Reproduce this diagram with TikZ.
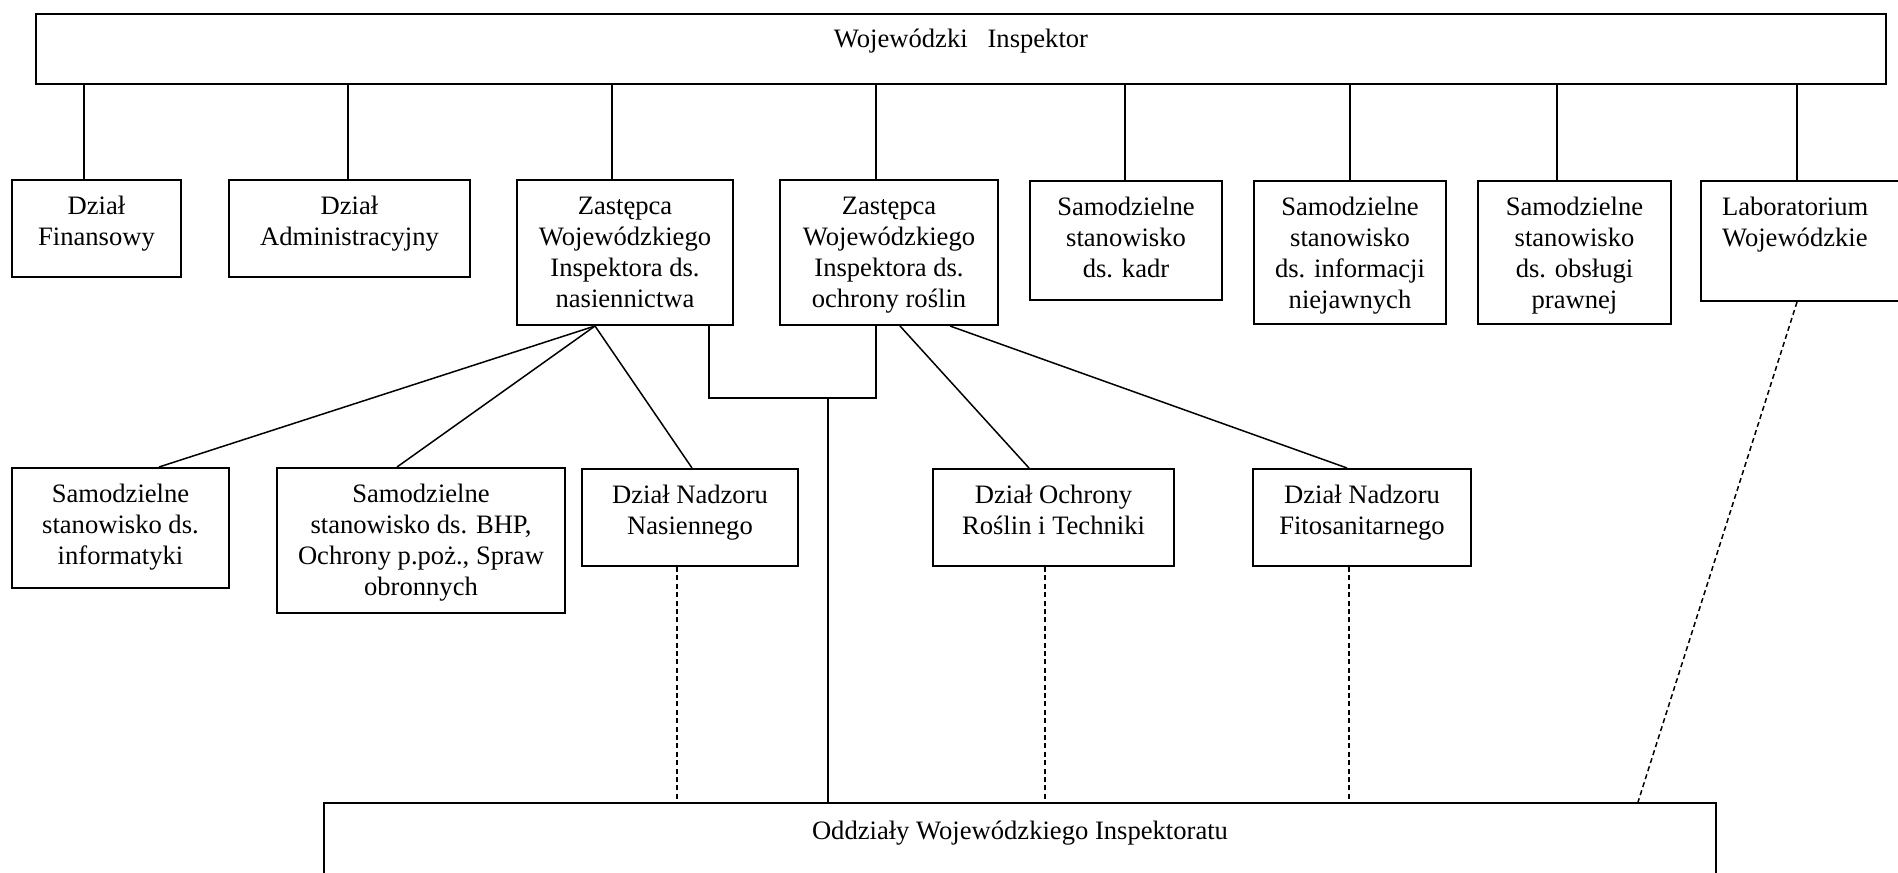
\documentclass[tikz,border=0pt]{standalone}
\usepackage{fontspec}
\setmainfont{Liberation Serif}
\usetikzlibrary{calc}
\newlength\pxu
\setlength\pxu{0.5pt}
\newcommand\boxtext[3]{\parbox[c][#2\pxu][t]{#1\pxu}{\centering\rule{0pt}{34\pxu}#3\par}}
\newcommand\boxtextl[3]{\parbox[c][#2\pxu][t]{#1\pxu}{\raggedright\leftskip=21\pxu\rule{0pt}{34\pxu}#3\par}}
\begin{document}
\begin{tikzpicture}[x=0.5pt,y=-0.5pt,
  box/.style={draw, line width=1pt, inner sep=0pt, anchor=north west, font=\fontsize{13.3}{15.5}\selectfont},
  conn/.style={line width=0.75pt},
  dashline/.style={line width=0.75pt, dash pattern=on 2.5pt off 1.7pt}]
\useasboundingbox (0,0) rectangle (1898,872);
% top
\node[box] (wi) at (35,13) {\parbox[c][70\pxu][t]{1850\pxu}{\centering\rule{0pt}{34\pxu}Wojewódzki\ \ \ Inspektor\par}};
% row 1
\node[box] (fin) at (11,179) {\boxtext{169}{97}{Dział\\Finansowy}};
\node[box] (adm) at (228,179) {\boxtext{241}{97}{Dział\\Administracyjny}};
\node[box] (zn) at (516,179) {\boxtext{216}{145}{Zastępca\\Wojewódzkiego\\Inspektora ds.\\nasiennictwa}};
\node[box] (zo) at (779,179) {\boxtext{218}{145}{Zastępca\\Wojewódzkiego\\Inspektora ds.\\ochrony roślin}};
\node[box] (kadr) at (1029,180) {\boxtext{192}{119}{Samodzielne\\stanowisko\\ds. kadr}};
\node[box] (inf) at (1253,180) {\boxtext{192}{143}{Samodzielne\\stanowisko\\ds. informacji\\niejawnych}};
\node[box] (praw) at (1477,180) {\boxtext{193}{143}{Samodzielne\\stanowisko\\ds. obsługi\\prawnej}};
\node[box] (lab) at (1700,180) {\boxtextl{210}{120}{Laboratorium\\Wojewódzkie}};
% row 2
\node[box] (sinf) at (11,467) {\boxtext{217}{120}{Samodzielne\\stanowisko ds.\\informatyki}};
\node[box] (bhp) at (276,467) {\boxtext{288}{145}{Samodzielne\\stanowisko ds. BHP,\\Ochrony p.poż., Spraw\\obronnych}};
\node[box] (dnn) at (581,468) {\boxtext{216}{97}{Dział Nadzoru\\Nasiennego}};
\node[box] (dor) at (932,468) {\boxtext{241}{97}{Dział Ochrony\\Roślin i Techniki}};
\node[box] (dnf) at (1252,468) {\boxtext{218}{97}{Dział Nadzoru\\Fitosanitarnego}};
% bottom
\node[box] (odd) at (323,802) {\parbox[c][90\pxu][t]{1392\pxu}{\centering\rule{0pt}{36\pxu}Oddziały Wojewódzkiego Inspektoratu\par}};
% top connectors
\foreach \n/\d in {fin/73, adm/120, zn/96, zo/97, kadr/96, inf/97, praw/80, lab/97} {
  \coordinate (t\n) at ([xshift=\d\pxu]\n.north west);
  \draw[conn] (t\n) -- (t\n |- wi.south);
}
% fan from zn
\coordinate (zf) at ([xshift=79\pxu]zn.south west);
\draw[conn] (zf) -- ([xshift=148\pxu]sinf.north west);
\draw[conn] (zf) -- ([xshift=121\pxu]bhp.north west);
\draw[conn] (zf) -- ([xshift=111\pxu]dnn.north west);
% fan from zo
\draw[conn] ([xshift=121\pxu]zo.south west) -- ([xshift=97\pxu]dor.north west);
\draw[conn] ([xshift=171\pxu]zo.south west) -- ([xshift=95\pxu]dnf.north west);
% bracket
\coordinate (b1) at ([xshift=193\pxu]zn.south west);
\coordinate (b2) at ([xshift=97\pxu]zo.south west);
\draw[conn] (b1) -- ++(0,72) -| (b2);
\coordinate (bj) at ($(b1)+(119,72)$);
\draw[conn] (bj) -- (bj |- odd.north);
% dashed
\coordinate (d1) at ([xshift=96\pxu]dnn.south west);
\draw[dashline] (d1) -- (d1 |- odd.north);
\coordinate (d2) at ([xshift=113\pxu]dor.south west);
\draw[dashline] (d2) -- (d2 |- odd.north);
\coordinate (d3) at ([xshift=97\pxu]dnf.south west);
\draw[dashline] (d3) -- (d3 |- odd.north);
\draw[dashline] ([xshift=97\pxu]lab.south west) -- ([xshift=1315\pxu]odd.north west);
\end{tikzpicture}
\end{document}
